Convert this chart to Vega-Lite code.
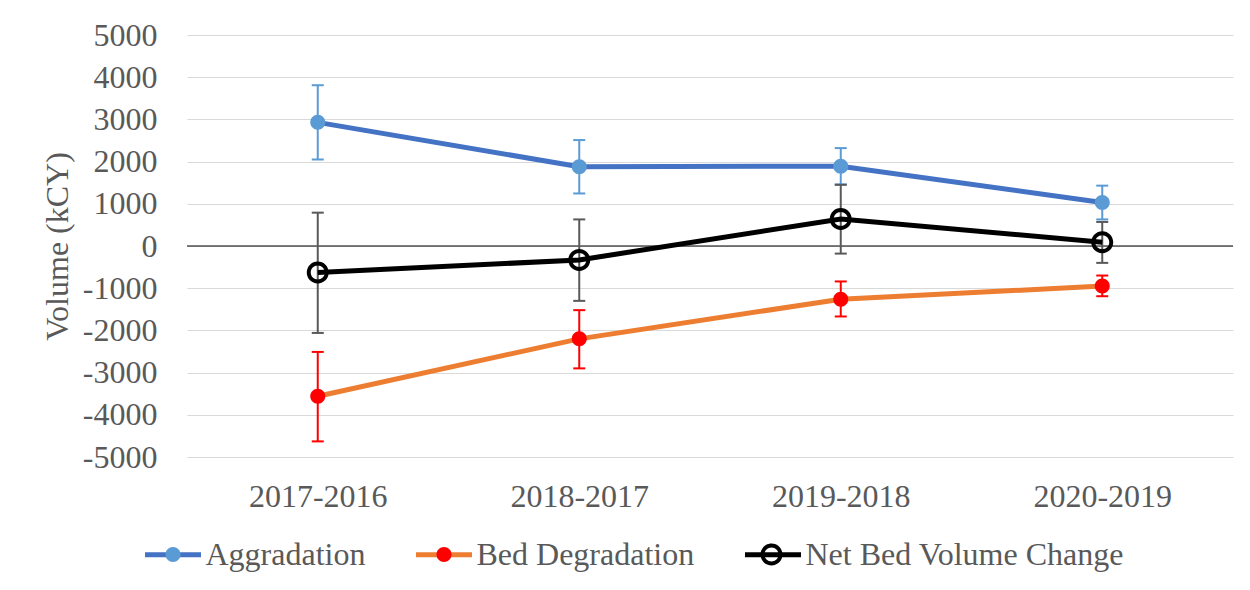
{
  "$schema": "https://vega.github.io/schema/vega-lite/v6.json",
  "width": 1046,
  "height": 422,
  "autosize": {"type": "none"},
  "padding": {"left": 187, "top": 35, "right": 17, "bottom": 133},
  "background": "white",
  "config": {"view": {"stroke": null}, "font": "Liberation Serif"},
  "resolve": {"scale": {"fill": "independent"}, "legend": {"color": "independent", "fill": "independent"}},
  "data": {"values": [
    {"period": "2017-2016", "series": "Aggradation", "value": 2930, "lo": 2050, "hi": 3810},
    {"period": "2018-2017", "series": "Aggradation", "value": 1880, "lo": 1245, "hi": 2510},
    {"period": "2019-2018", "series": "Aggradation", "value": 1890, "lo": 1460, "hi": 2320},
    {"period": "2020-2019", "series": "Aggradation", "value": 1030, "lo": 630, "hi": 1430},
    {"period": "2017-2016", "series": "Bed Degradation", "value": -3560, "lo": -4630, "hi": -2510},
    {"period": "2018-2017", "series": "Bed Degradation", "value": -2200, "lo": -2900, "hi": -1520},
    {"period": "2019-2018", "series": "Bed Degradation", "value": -1260, "lo": -1670, "hi": -840},
    {"period": "2020-2019", "series": "Bed Degradation", "value": -950, "lo": -1190, "hi": -700},
    {"period": "2017-2016", "series": "Net Bed Volume Change", "value": -630, "lo": -2060, "hi": 790},
    {"period": "2018-2017", "series": "Net Bed Volume Change", "value": -330, "lo": -1300, "hi": 630},
    {"period": "2019-2018", "series": "Net Bed Volume Change", "value": 640, "lo": -180, "hi": 1450},
    {"period": "2020-2019", "series": "Net Bed Volume Change", "value": 90, "lo": -400, "hi": 570}
  ]},
  "layer": [
    {
      "data": {"values": [{"z": 0}]},
      "mark": {"type": "rule", "color": "#000000", "strokeWidth": 1.2},
      "encoding": {
        "y": {
          "field": "z", "type": "quantitative",
          "scale": {"domain": [-5000, 5000], "nice": false, "zero": false},
          "title": "Volume (kCY)",
          "axis": {
            "values": [-5000, -4000, -3000, -2000, -1000, 0, 1000, 2000, 3000, 4000, 5000],
            "labelExpr": "'' + datum.value",
            "domain": false, "ticks": false, "tickSize": 0,
            "grid": true, "gridColor": "#D9D9D9", "gridWidth": 1,
            "labelFont": "Liberation Serif", "labelFontSize": 32, "labelColor": "#595959",
            "labelPadding": 30,
            "titleFont": "Liberation Serif", "titleFontSize": 32, "titleFontWeight": "normal",
            "titleColor": "#595959", "titlePadding": 8
          }
        }
      }
    },
    {
      "mark": {"type": "rule", "strokeWidth": 2},
      "encoding": {
        "x": {"field": "period", "type": "nominal", "scale": {"type": "point", "padding": 0.5}, "title": null,
          "axis": {"labelAngle": 0, "domain": false, "ticks": false, "tickSize": 0, "grid": false,
            "labelFont": "Liberation Serif", "labelFontSize": 32, "labelColor": "#595959", "labelPadding": 24}},
        "y": {"field": "lo", "type": "quantitative", "title": "Volume (kCY)"},
        "y2": {"field": "hi"},
        "stroke": {"field": "series", "type": "nominal", "legend": null,
          "scale": {"domain": ["Aggradation", "Bed Degradation", "Net Bed Volume Change"], "range": ["#5B9BD5", "#FF0000", "#595959"]}}
      }
    },
    {
      "mark": {"type": "point", "shape": "stroke", "size": 144, "strokeWidth": 2, "filled": false, "opacity": 1},
      "encoding": {
        "x": {"field": "period", "type": "nominal", "scale": {"type": "point", "padding": 0.5}, "title": null},
        "y": {"field": "lo", "type": "quantitative", "title": "Volume (kCY)"},
        "stroke": {"field": "series", "type": "nominal", "legend": null}
      }
    },
    {
      "mark": {"type": "point", "shape": "stroke", "size": 144, "strokeWidth": 2, "filled": false, "opacity": 1},
      "encoding": {
        "x": {"field": "period", "type": "nominal", "scale": {"type": "point", "padding": 0.5}, "title": null},
        "y": {"field": "hi", "type": "quantitative", "title": "Volume (kCY)"},
        "stroke": {"field": "series", "type": "nominal", "legend": null}
      }
    },
    {
      "mark": {"type": "line", "strokeWidth": 5},
      "encoding": {
        "x": {"field": "period", "type": "nominal", "scale": {"type": "point", "padding": 0.5}, "title": null},
        "y": {"field": "value", "type": "quantitative", "title": "Volume (kCY)"},
        "color": {"field": "series", "type": "nominal",
          "scale": {"range": ["#4472C4", "#ED7D31", "#000000"]},
          "legend": {
            "title": null, "orient": "none", "legendX": -44.5, "legendY": 489,
            "direction": "horizontal", "columns": 3, "columnPadding": 40, "padding": 0,
            "symbolType": "stroke", "symbolSize": 3136, "symbolStrokeWidth": 5,
            "labelFont": "Liberation Serif", "labelFontSize": 32, "labelColor": "#595959",
            "labelOffset": 2, "labelLimit": 600
          }
        }
      }
    },
    {
      "transform": [{"filter": "datum.series === 'Aggradation'"}],
      "mark": {"type": "point", "filled": true, "size": 3721, "opacity": 1, "strokeWidth": 0,
        "shape": "M0.246,0A0.246,0.246,0,1,1,-0.246,0A0.246,0.246,0,1,1,0.246,0Z"},
      "encoding": {
        "x": {"field": "period", "type": "nominal", "scale": {"type": "point", "padding": 0.5}, "title": null},
        "y": {"field": "value", "type": "quantitative", "title": "Volume (kCY)"},
        "fill": {"field": "series", "type": "nominal",
          "scale": {"domain": ["Aggradation"], "range": ["#5B9BD5"]},
          "legend": {
            "title": null, "orient": "none", "legendX": -44.5, "legendY": 489, "padding": 0,
            "symbolType": "M0.246,0A0.246,0.246,0,1,1,-0.246,0A0.246,0.246,0,1,1,0.246,0Z",
            "symbolSize": 3721, "symbolStrokeWidth": 0, "symbolStrokeColor": "transparent", "symbolOpacity": 1,
            "labelExpr": "''", "labelFontSize": 10, "labelOffset": 0
          }
        }
      }
    },
    {
      "transform": [{"filter": "datum.series === 'Bed Degradation'"}],
      "mark": {"type": "point", "filled": true, "size": 3721, "opacity": 1, "strokeWidth": 0,
        "shape": "M0.246,0A0.246,0.246,0,1,1,-0.246,0A0.246,0.246,0,1,1,0.246,0Z"},
      "encoding": {
        "x": {"field": "period", "type": "nominal", "scale": {"type": "point", "padding": 0.5}, "title": null},
        "y": {"field": "value", "type": "quantitative", "title": "Volume (kCY)"},
        "fill": {"field": "series", "type": "nominal",
          "scale": {"domain": ["Bed Degradation"], "range": ["#FF0000"]},
          "legend": {
            "title": null, "orient": "none", "legendX": 226.5, "legendY": 489, "padding": 0,
            "symbolType": "M0.246,0A0.246,0.246,0,1,1,-0.246,0A0.246,0.246,0,1,1,0.246,0Z",
            "symbolSize": 3721, "symbolStrokeWidth": 0, "symbolStrokeColor": "transparent", "symbolOpacity": 1,
            "labelExpr": "''", "labelFontSize": 10, "labelOffset": 0
          }
        }
      }
    },
    {
      "transform": [{"filter": "datum.series === 'Net Bed Volume Change'"}],
      "mark": {"type": "point", "filled": true, "size": 3721, "opacity": 1, "strokeWidth": 0,
        "shape": "M0.36,0A0.36,0.36,0,1,1,-0.36,0A0.36,0.36,0,1,1,0.36,0Z M0.23,0A0.23,0.23,0,1,0,-0.23,0A0.23,0.23,0,1,0,0.23,0Z"},
      "encoding": {
        "x": {"field": "period", "type": "nominal", "scale": {"type": "point", "padding": 0.5}, "title": null},
        "y": {"field": "value", "type": "quantitative", "title": "Volume (kCY)"},
        "fill": {"field": "series", "type": "nominal",
          "scale": {"domain": ["Net Bed Volume Change"], "range": ["#000000"]},
          "legend": {
            "title": null, "orient": "none", "legendX": 554, "legendY": 489, "padding": 0,
            "symbolType": "M0.36,0A0.36,0.36,0,1,1,-0.36,0A0.36,0.36,0,1,1,0.36,0Z M0.23,0A0.23,0.23,0,1,0,-0.23,0A0.23,0.23,0,1,0,0.23,0Z",
            "symbolSize": 3721, "symbolStrokeWidth": 0, "symbolStrokeColor": "transparent", "symbolOpacity": 1,
            "labelExpr": "''", "labelFontSize": 10, "labelOffset": 0
          }
        }
      }
    }
  ]
}
